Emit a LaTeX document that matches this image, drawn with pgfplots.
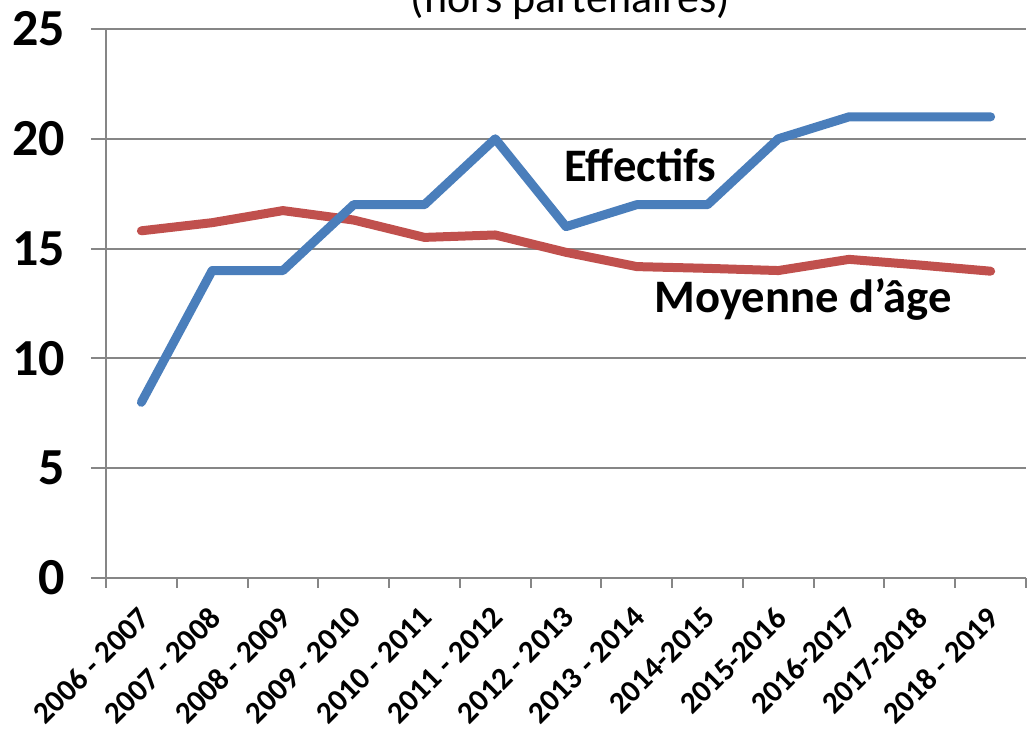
\documentclass[border=0pt]{standalone}
\usepackage{fontspec}
\setmainfont{Carlito}
\usepackage{pgfplots}
\pgfplotsset{compat=1.18}
\definecolor{eblue}{HTML}{4A7EBB}
\definecolor{ered}{HTML}{C0504D}
\definecolor{gridg}{HTML}{868686}
\begin{document}
\begin{tikzpicture}
\begin{axis}[
  scale only axis, width=460pt, height=274.5pt,
  xmin=-0.5, xmax=12.5, ymin=0, ymax=25,
  axis x line*=bottom, axis y line*=left,
  axis line style={gridg, line width=1pt},
  ytick={0,5,...,25}, ymajorgrids,
  major grid style={gridg, line width=1pt},
  xtick={0,...,12},
  xticklabels={2006 - 2007,2007 - 2008,2008 - 2009,2009 - 2010,2010 - 2011,2011 - 2012,2012 - 2013,2013 - 2014,2014-2015,2015-2016,2016-2017,2017-2018,2018 - 2019},
  minor xtick={-0.5,0.5,...,12.5},
  tick align=outside, major tick length=7.5pt, minor tick length=5pt,
  tick style={gridg, line width=1pt},
  major x tick style={draw=none},
  /pgf/number format/assume math mode=true,
  yticklabel style={font=\fontsize{26}{26}\selectfont\bfseries, xshift=-9.5pt},
  xticklabel style={font=\fontsize{15.5}{15.5}\selectfont\bfseries, xshift=-2.5pt, yshift=-3pt, rotate=45, anchor=north east, inner sep=2pt},
  clip=false,
]
\addplot[ered, line width=4.5pt, line cap=round, line join=round] coordinates {
(0,15.81) (1,16.18) (2,16.73) (3,16.3) (4,15.51) (5,15.62) (6,14.83) (7,14.18) (8,14.1) (9,14.0) (10,14.51) (11,14.25) (12,13.97)};
\addplot[eblue, line width=4.5pt, line cap=round, line join=round] coordinates {
(0,8) (1,14) (2,14) (3,17) (4,17) (5,20) (6,16) (7,17) (8,17) (9,20) (10,21) (11,21) (12,21)};
\node[font=\fontsize{23.3}{23.3}\selectfont\bfseries] at (axis cs:7.05,18.8) {Effectifs};
\node[font=\fontsize{23.3}{23.3}\selectfont\bfseries] at (axis cs:9.35,12.66) {Moyenne d’âge};
\node[anchor=base, font=\fontsize{22}{22}\selectfont] at (axis cs:6.06,25.75) {(hors partenaires)};
\coordinate (bl) at (rel axis cs:0,0);
\coordinate (tr) at (rel axis cs:1,1);
\end{axis}
\pgfresetboundingbox
\path[use as bounding box] ([xshift=-53pt,yshift=-76pt]bl) rectangle ([xshift=5pt,yshift=14.5pt]tr);
\end{tikzpicture}
\end{document}
